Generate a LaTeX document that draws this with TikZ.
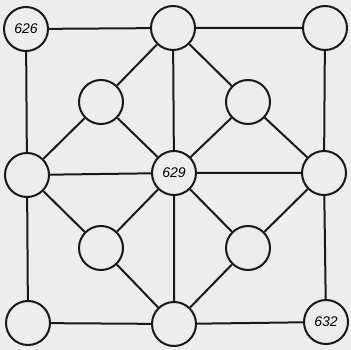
\documentclass[tikz,border=0pt]{standalone}
\usepackage{fontspec}
\setmainfont{Liberation Sans}
\begin{document}
\begin{tikzpicture}[x=1pt,y=-1pt,
  circ/.style={circle,draw=black!90,line width=2pt,minimum size=44pt,inner sep=0pt,fill=none,font=\itshape\fontsize{14}{14}\selectfont},
  edge/.style={draw=black!90,line width=2pt}]
\fill[black!7] (0,0) rectangle (351,350);
\useasboundingbox (0,0) rectangle (351,350);
\node[circ] (tl) at (26,29) {626};
\node[circ] (tm) at (173,28) {};
\node[circ] (tr) at (325,28) {};
\node[circ] (ml) at (27,175) {};
\node[circ] (c) at (174,173) {629};
\node[circ] (mr) at (324,173) {};
\node[circ] (bl) at (28,323) {};
\node[circ] (bm) at (174,324) {};
\node[circ] (br) at (326,322) {632};
\node[circ] (itl) at (101,102) {};
\node[circ] (itr) at (248,102) {};
\node[circ] (ibl) at (101,248) {};
\node[circ] (ibr) at (248,248) {};
\path[edge] (tl)--(tm) (tm)--(tr) (tr)--(mr) (mr)--(br) (br)--(bm) (bm)--(bl) (bl)--(ml) (ml)--(tl);
\path[edge] (tm)--(itl) (itl)--(ml) (ml)--(ibl) (ibl)--(bm) (bm)--(ibr) (ibr)--(mr) (mr)--(itr) (itr)--(tm);
\path[edge] (c)--(tm) (c)--(bm) (c)--(ml) (c)--(mr) (c)--(itl) (c)--(itr) (c)--(ibl) (c)--(ibr);
\end{tikzpicture}
\end{document}
